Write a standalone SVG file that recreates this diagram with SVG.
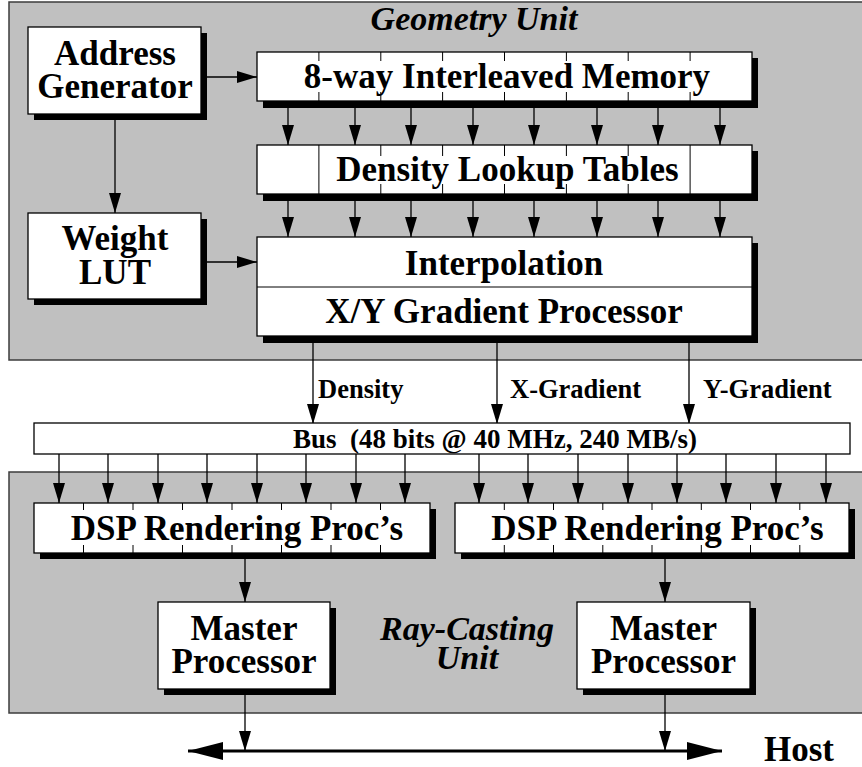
<svg xmlns="http://www.w3.org/2000/svg" width="862" height="767" viewBox="0 0 862 767">
  <defs>
    <style>
      .panel { fill: #c0c0c0; stroke: #3c3c3c; stroke-width: 1.5; }
      .box { fill: #ffffff; stroke: #000000; stroke-width: 1.3; }
      .shadow { fill: #000000; }
      .div { stroke: #000000; stroke-width: 1; }
      .cover { fill: #ffffff; }
      .t { font-family: "Liberation Serif", "Times New Roman", serif; font-weight: bold; font-size: 35px; text-anchor: middle; fill: #000; }
      .lbl { font-family: "Liberation Serif", "Times New Roman", serif; font-weight: bold; font-size: 26.5px; fill: #000; }
      .ti { font-family: "Liberation Serif", "Times New Roman", serif; font-weight: bold; font-style: italic; font-size: 34px; text-anchor: middle; fill: #000; }
      .wire { stroke: #000000; stroke-width: 1.3; fill: none; marker-end: url(#arrow); }
      .hostline { stroke: #000000; stroke-width: 3; fill: none; marker-start: url(#bigarrow); marker-end: url(#bigarrow); }
    </style>
    <marker id="arrow" markerUnits="userSpaceOnUse" markerWidth="20" markerHeight="12" refX="20" refY="6" orient="auto">
      <path d="M0,0 L20,6 L0,12 Z" fill="#000"/>
    </marker>
    <marker id="bigarrow" markerUnits="userSpaceOnUse" markerWidth="35" markerHeight="18" refX="35" refY="9" orient="auto-start-reverse">
      <path d="M0,0 L35,9 L0,18 Z" fill="#000"/>
    </marker>
  </defs>

  <!-- enclosing units -->
  <g id="geometry-unit">
    <rect class="panel" x="9" y="2" width="870" height="358"/>
    <text class="ti" x="474" y="30">Geometry Unit</text>
  </g>
  <g id="ray-casting-unit">
    <rect class="panel" x="9" y="472" width="870" height="241"/>
    <text class="ti" x="467" y="640">Ray-Casting</text>
    <text class="ti" x="467" y="669">Unit</text>
  </g>

  <!-- connectors -->
  <g id="connectors">
    <line class="wire" x1="201" y1="77" x2="257" y2="77"/>
    <line class="wire" x1="115" y1="114" x2="115" y2="213"/>
    <line class="wire" x1="201" y1="262" x2="257" y2="262"/>
    <!-- memory banks to lookup tables -->
    <line class="wire" x1="288" y1="101" x2="288" y2="145"/>
    <line class="wire" x1="355" y1="101" x2="355" y2="145"/>
    <line class="wire" x1="411" y1="101" x2="411" y2="145"/>
    <line class="wire" x1="473" y1="101" x2="473" y2="145"/>
    <line class="wire" x1="534" y1="101" x2="534" y2="145"/>
    <line class="wire" x1="597" y1="101" x2="597" y2="145"/>
    <line class="wire" x1="658" y1="101" x2="658" y2="145"/>
    <line class="wire" x1="720" y1="101" x2="720" y2="145"/>
    <!-- lookup tables to interpolation -->
    <line class="wire" x1="288" y1="194" x2="288" y2="237"/>
    <line class="wire" x1="355" y1="194" x2="355" y2="237"/>
    <line class="wire" x1="411" y1="194" x2="411" y2="237"/>
    <line class="wire" x1="473" y1="194" x2="473" y2="237"/>
    <line class="wire" x1="534" y1="194" x2="534" y2="237"/>
    <line class="wire" x1="597" y1="194" x2="597" y2="237"/>
    <line class="wire" x1="658" y1="194" x2="658" y2="237"/>
    <line class="wire" x1="720" y1="194" x2="720" y2="237"/>
    <!-- gradient processor outputs to bus -->
    <line class="wire" x1="313" y1="336" x2="313" y2="424"/>
    <line class="wire" x1="497" y1="336" x2="497" y2="424"/>
    <line class="wire" x1="689" y1="336" x2="689" y2="424"/>
    <!-- bus to left DSP array -->
    <line class="wire" x1="59" y1="454" x2="59" y2="503"/>
    <line class="wire" x1="108" y1="454" x2="108" y2="503"/>
    <line class="wire" x1="158" y1="454" x2="158" y2="503"/>
    <line class="wire" x1="207" y1="454" x2="207" y2="503"/>
    <line class="wire" x1="257" y1="454" x2="257" y2="503"/>
    <line class="wire" x1="306" y1="454" x2="306" y2="503"/>
    <line class="wire" x1="356" y1="454" x2="356" y2="503"/>
    <line class="wire" x1="405" y1="454" x2="405" y2="503"/>
    <!-- bus to right DSP array -->
    <line class="wire" x1="479" y1="454" x2="479" y2="503"/>
    <line class="wire" x1="528" y1="454" x2="528" y2="503"/>
    <line class="wire" x1="578" y1="454" x2="578" y2="503"/>
    <line class="wire" x1="628" y1="454" x2="628" y2="503"/>
    <line class="wire" x1="677" y1="454" x2="677" y2="503"/>
    <line class="wire" x1="726" y1="454" x2="726" y2="503"/>
    <line class="wire" x1="776" y1="454" x2="776" y2="503"/>
    <line class="wire" x1="826" y1="454" x2="826" y2="503"/>
    <!-- DSP arrays to master processors -->
    <line class="wire" x1="245" y1="553" x2="245" y2="602"/>
    <line class="wire" x1="665" y1="553" x2="665" y2="602"/>
    <!-- master processors to host link -->
    <line class="wire" x1="245" y1="689" x2="245" y2="751"/>
    <line class="wire" x1="665" y1="689" x2="665" y2="751"/>
    <line class="hostline" x1="188" y1="751" x2="722" y2="751"/>
    <text class="lbl" x="318" y="398">Density</text>
    <text class="lbl" x="510" y="398">X-Gradient</text>
    <text class="lbl" x="703" y="398">Y-Gradient</text>
  </g>

  <!-- nodes -->
  <g id="host">
    <text class="t" x="764" y="761" style="text-anchor:start">Host</text>
  </g>

  <g id="address-generator">
    <rect class="shadow" x="34" y="33" width="173" height="87"/>
    <rect class="box" x="28" y="27" width="173" height="87"/>
    <text class="t" x="115" y="65">Address</text>
    <text class="t" x="115" y="98">Generator</text>
  </g>

  <g id="weight-lut">
    <rect class="shadow" x="34" y="219" width="173" height="86"/>
    <rect class="box" x="28" y="213" width="173" height="86"/>
    <text class="t" x="115" y="250">Weight</text>
    <text class="t" x="115" y="284">LUT</text>
  </g>

  <g id="interleaved-memory">
    <rect class="shadow" x="263" y="58" width="495" height="50"/>
    <rect class="box" x="257" y="52" width="495" height="49"/>
    <g class="div">
      <line x1="318.9" y1="52" x2="318.9" y2="101"/>
      <line x1="380.8" y1="52" x2="380.8" y2="101"/>
      <line x1="442.6" y1="52" x2="442.6" y2="101"/>
      <line x1="504.5" y1="52" x2="504.5" y2="101"/>
      <line x1="566.4" y1="52" x2="566.4" y2="101"/>
      <line x1="628.2" y1="52" x2="628.2" y2="101"/>
      <line x1="690.1" y1="52" x2="690.1" y2="101"/>
    </g>
    <rect class="cover" x="302" y="61" width="410" height="31"/>
    <text class="t" x="507" y="88">8-way Interleaved Memory</text>
  </g>

  <g id="density-lookup-tables">
    <rect class="shadow" x="263" y="151" width="495" height="50"/>
    <rect class="box" x="257" y="145" width="495" height="49"/>
    <g class="div">
      <line x1="318.9" y1="145" x2="318.9" y2="194"/>
      <line x1="380.8" y1="145" x2="380.8" y2="194"/>
      <line x1="442.6" y1="145" x2="442.6" y2="194"/>
      <line x1="504.5" y1="145" x2="504.5" y2="194"/>
      <line x1="566.4" y1="145" x2="566.4" y2="194"/>
      <line x1="628.2" y1="145" x2="628.2" y2="194"/>
      <line x1="690.1" y1="145" x2="690.1" y2="194"/>
    </g>
    <rect class="cover" x="331" y="156" width="353" height="28"/>
    <text class="t" x="507.5" y="181">Density Lookup Tables</text>
  </g>

  <g id="interpolation-gradient">
    <rect class="shadow" x="263" y="243" width="495" height="100"/>
    <rect class="box" x="257" y="237" width="495" height="99"/>
    <line class="div" x1="257" y1="287" x2="752" y2="287"/>
    <text class="t" x="504" y="275">Interpolation</text>
    <text class="t" x="504" y="323">X/Y Gradient Processor</text>
  </g>

  <g id="bus">
    <rect class="box" x="34" y="423" width="816" height="31"/>
    <text class="lbl" x="495" y="448" style="text-anchor:middle;font-size:27px" xml:space="preserve">Bus  (48 bits @ 40 MHz, 240 MB/s)</text>
  </g>

  <g id="dsp-left">
    <rect class="shadow" x="40" y="509" width="396" height="50"/>
    <rect class="box" x="34" y="503" width="396" height="50"/>
    <g class="div">
      <line x1="83.5" y1="503" x2="83.5" y2="553"/>
      <line x1="133" y1="503" x2="133" y2="553"/>
      <line x1="182.5" y1="503" x2="182.5" y2="553"/>
      <line x1="232" y1="503" x2="232" y2="553"/>
      <line x1="281.5" y1="503" x2="281.5" y2="553"/>
      <line x1="331" y1="503" x2="331" y2="553"/>
      <line x1="380.5" y1="503" x2="380.5" y2="553"/>
    </g>
    <rect class="cover" x="66" y="510" width="342" height="35"/>
    <text class="t" x="237" y="540">DSP Rendering Proc’s</text>
  </g>

  <g id="dsp-right">
    <rect class="shadow" x="461" y="509" width="394" height="50"/>
    <rect class="box" x="455" y="503" width="394" height="50"/>
    <g class="div">
      <line x1="504.3" y1="503" x2="504.3" y2="553"/>
      <line x1="553.5" y1="503" x2="553.5" y2="553"/>
      <line x1="602.8" y1="503" x2="602.8" y2="553"/>
      <line x1="652" y1="503" x2="652" y2="553"/>
      <line x1="701.3" y1="503" x2="701.3" y2="553"/>
      <line x1="750.5" y1="503" x2="750.5" y2="553"/>
      <line x1="799.8" y1="503" x2="799.8" y2="553"/>
    </g>
    <rect class="cover" x="486" y="510" width="343" height="35"/>
    <text class="t" x="657.5" y="540">DSP Rendering Proc’s</text>
  </g>

  <g id="master-left">
    <rect class="shadow" x="164" y="608" width="172" height="87"/>
    <rect class="box" x="158" y="602" width="172" height="87"/>
    <text class="t" x="244" y="640">Master</text>
    <text class="t" x="244" y="673">Processor</text>
  </g>

  <g id="master-right">
    <rect class="shadow" x="583" y="608" width="173" height="87"/>
    <rect class="box" x="577" y="602" width="173" height="87"/>
    <text class="t" x="663.5" y="640">Master</text>
    <text class="t" x="663.5" y="673">Processor</text>
  </g>
</svg>
